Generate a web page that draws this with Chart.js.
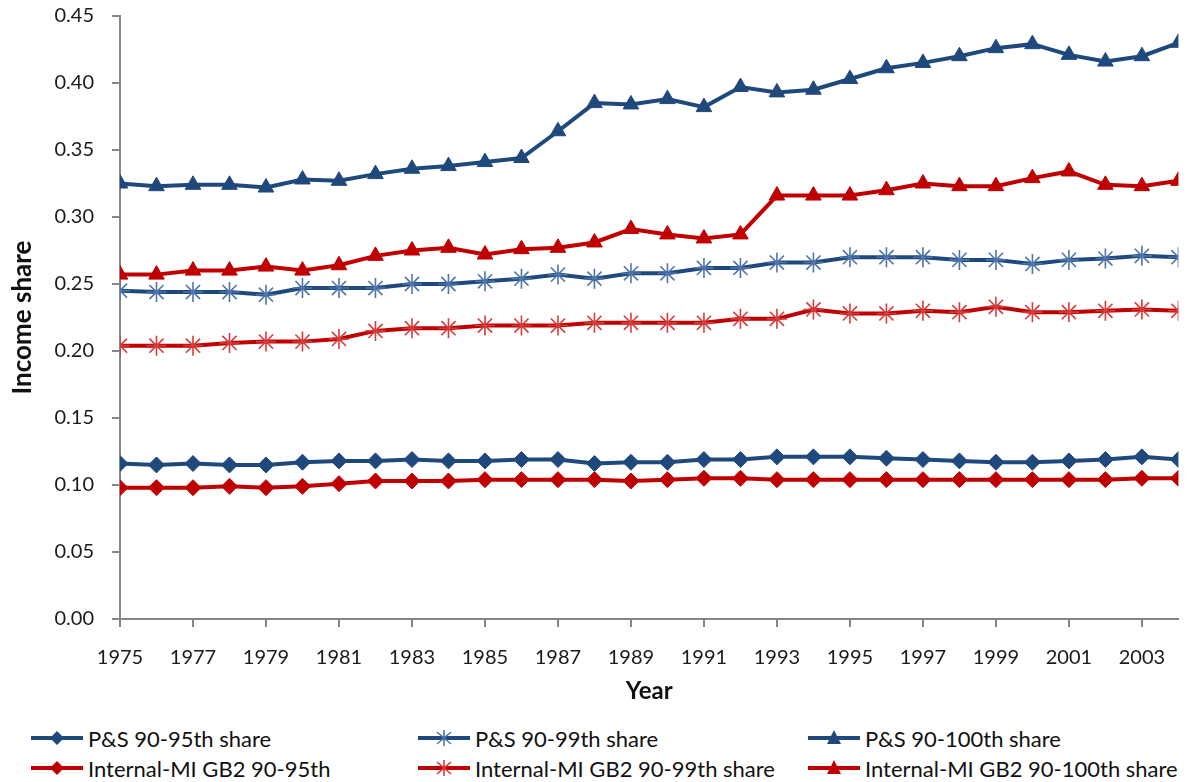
<!DOCTYPE html>
<html>
<head>
<meta charset="utf-8">
<script src="https://cdn.jsdelivr.net/npm/chart.js@4"></script>
<style>
  html,body{margin:0;padding:0;background:#fff;}
  #wrap{position:relative;width:1190px;height:782px;}
  #cv{position:absolute;left:0;top:0;}
  .leg{position:absolute;display:flex;align-items:center;font-family:Lato,"Noto Sans",sans-serif;font-size:22px;color:#111;white-space:nowrap;}
  .leg svg{margin-right:5px;}
</style>
</head>
<body>
<div id="wrap">
  <canvas id="cv" width="1190" height="710"></canvas>
  <div id="legend"></div>
</div>
<script>
const years = [1975,1976,1977,1978,1979,1980,1981,1982,1983,1984,1985,1986,1987,1988,1989,1990,1991,1992,1993,1994,1995,1996,1997,1998,1999,2000,2001,2002,2003,2004];
const tickYears = [1975,1977,1979,1981,1983,1985,1987,1989,1991,1993,1995,1997,1999,2001,2003];
const yTicks = [0,0.05,0.10,0.15,0.20,0.25,0.30,0.35,0.40,0.45];

const ps95 = [0.116,0.115,0.116,0.115,0.115,0.117,0.118,0.118,0.119,0.118,0.118,0.119,0.119,0.116,0.117,0.117,0.119,0.119,0.121,0.121,0.121,0.120,0.119,0.118,0.117,0.117,0.118,0.119,0.121,0.119];
const ps99 = [0.245,0.244,0.244,0.244,0.242,0.247,0.247,0.247,0.250,0.250,0.252,0.254,0.257,0.254,0.258,0.258,0.262,0.262,0.266,0.266,0.270,0.270,0.270,0.268,0.268,0.265,0.268,0.269,0.271,0.270];
const ps100 = [0.325,0.323,0.324,0.324,0.322,0.328,0.327,0.332,0.336,0.338,0.341,0.344,0.364,0.385,0.384,0.388,0.382,0.397,0.393,0.395,0.403,0.411,0.415,0.420,0.426,0.429,0.421,0.416,0.420,0.430];
const gb95 = [0.098,0.098,0.098,0.099,0.098,0.099,0.101,0.103,0.103,0.103,0.104,0.104,0.104,0.104,0.103,0.104,0.105,0.105,0.104,0.104,0.104,0.104,0.104,0.104,0.104,0.104,0.104,0.104,0.105,0.105];
const gb99 = [0.204,0.204,0.204,0.206,0.207,0.207,0.209,0.215,0.217,0.217,0.219,0.219,0.219,0.221,0.221,0.221,0.221,0.224,0.224,0.231,0.228,0.228,0.230,0.229,0.233,0.229,0.229,0.230,0.231,0.230];
const gb100 = [0.257,0.257,0.260,0.260,0.263,0.260,0.264,0.271,0.275,0.277,0.272,0.276,0.277,0.281,0.291,0.287,0.284,0.287,0.316,0.316,0.316,0.320,0.325,0.323,0.323,0.329,0.334,0.324,0.323,0.327];

const seriesNames = ["P&S 90-95th share","P&S 90-99th share","P&S 90-100th share","Internal-MI GB2 90-95th","Internal-MI GB2 90-99th share","Internal-MI GB2 90-100th share"];
const BLUE = '#1F497D', RED = '#C00000';
const BLUE_L = '#4F74A8', RED_L = '#D43B3B';

function pts(arr){ return years.map((y,i)=>({x:y,y:arr[i]})); }
function ds(label, arr, color, style){
  const o = {label, data: pts(arr), borderColor: color, backgroundColor: color, borderWidth: 4, tension: 0,
    pointStyle: style, pointBackgroundColor: color, pointBorderColor: color, pointBorderWidth: 1, pointRadius: 8};
  if(style==='star'){ o.pointRadius = 10; o.pointBorderWidth = 1.6; o.pointBorderColor = color===BLUE?BLUE_L:RED_L; }
  if(style==='rectRot'){ o.pointRadius = 8; }
  if(style==='triangle'){ o.pointRadius = 9; }
  return o;
}

const datasets = [
  ds(seriesNames[0], ps95, BLUE, 'rectRot'),
  ds(seriesNames[1], ps99, BLUE, 'star'),
  ds(seriesNames[2], ps100, BLUE, 'triangle'),
  ds(seriesNames[3], gb95, RED, 'rectRot'),
  ds(seriesNames[4], gb99, RED, 'star'),
  ds(seriesNames[5], gb100, RED, 'triangle'),
];

const FONT = 'Lato, "Noto Sans", sans-serif';
const AX = '#868686';

new Chart(document.getElementById('cv'), {
  type: 'line',
  data: { datasets },
  options: {
    responsive: false, animation: false,
    layout: { padding: { left: 3, right: 9, top: 16, bottom: 0 } },
    plugins: { legend: { display: false }, tooltip: { enabled: false } },
    scales: {
      x: {
        type: 'linear', min: 1975, max: 2004,
        afterBuildTicks: a => { a.ticks = tickYears.map(v => ({ value: v })); },
        afterFit: a => { a.height = 91; a.paddingLeft = 0; a.paddingRight = 0; },
        border: { display: true, color: AX, width: 2 },
        grid: { display: true, drawOnChartArea: false, drawTicks: true, tickLength: 8, color: AX, lineWidth: 2 },
        ticks: { color: '#1a1a1a', font: { family: FONT, size: 20 }, padding: 19, maxRotation: 0, autoSkip: false, callback: v => String(v) },
        title: { display: true, text: 'Year', color: '#111', font: { family: FONT, size: 24, weight: 'bold' }, padding: { top: 4, bottom: 4 } }
      },
      y: {
        min: 0, max: 0.45,
        afterBuildTicks: a => { a.ticks = yTicks.map(v => ({ value: v })); },
        afterFit: a => { a.width = 117; a.paddingTop = 0; a.paddingBottom = 0; },
        border: { display: true, color: AX, width: 2 },
        grid: { display: true, drawOnChartArea: false, drawTicks: true, tickLength: 8, color: AX, lineWidth: 2 },
        ticks: { color: '#1a1a1a', font: { family: FONT, size: 20 }, padding: 18, callback: v => Number(v).toFixed(2) },
        title: { display: true, text: 'Income share', color: '#111', font: { family: FONT, size: 26, weight: 'bold' }, padding: { top: 4, bottom: 4 } }
      }
    }
  }
});

// HTML legend
const legPos = [[31,738],[418,738],[808,738],[31,768],[418,768],[808,768]];
const legStyle = ['rectRot','star','triangle','rectRot','star','triangle'];
const legColor = [BLUE,BLUE,BLUE,RED,RED,RED];
function marker(style, c){
  if(style==='rectRot') return `<polygon points="26,3 33,10 26,17 19,10" fill="${c}"/>`;
  if(style==='triangle') return `<polygon points="26,2 33,16 19,16" fill="${c}"/>`;
  const l = c===BLUE?BLUE_L:RED_L;
  return `<g stroke="${l}" stroke-width="1.6"><line x1="26" y1="2" x2="26" y2="18"/><line x1="19" y1="4" x2="33" y2="16"/><line x1="33" y1="4" x2="19" y2="16"/></g>`;
}
const L = document.getElementById('legend');
seriesNames.forEach((n,i)=>{
  const d = document.createElement('div');
  d.className='leg';
  d.style.left = legPos[i][0]+'px';
  d.style.top = (legPos[i][1]-14)+'px';
  d.style.height = '28px';
  d.innerHTML = `<svg width="52" height="20"><line x1="0" y1="10" x2="52" y2="10" stroke="${legColor[i]}" stroke-width="4"/>${marker(legStyle[i], legColor[i])}</svg><span>${n.replace('&','&amp;')}</span>`;
  L.appendChild(d);
});
</script>
</body>
</html>
